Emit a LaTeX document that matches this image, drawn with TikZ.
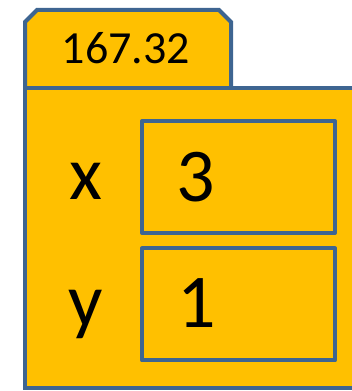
\documentclass[tikz,border=0pt]{standalone}
\usepackage{fontspec}
\setmainfont{Carlito}
\definecolor{gold}{HTML}{FFC000}
\definecolor{edge}{HTML}{3E6591}
\begin{document}
\begin{tikzpicture}[x=1pt,y=1pt,
  frame/.style={draw=edge,fill=gold,line width=4pt,line join=round},
  slot/.style={frame,rectangle,inner sep=0pt,minimum width=193pt,minimum height=112pt},
  big/.style={font=\fontsize{76}{76}\selectfont,inner sep=0pt,anchor=base},
  tabtext/.style={font=\fontsize{46}{46}\selectfont,inner sep=0pt,anchor=base}]
\useasboundingbox (0,0) rectangle (352,391);
\clip (0,0) rectangle (352,391);
\draw[frame,line join=miter] (25,303) -- (25,369) -- (37,381) -- (219,381) -- (231,369) -- (231,303);
\draw[frame,line join=miter] (25,3) rectangle (370,303);
\node[slot] (xbox) at (238.5,214) {};
\node[slot] (ybox) at (238.5,86.5) {};
\node[tabtext] (addr) at (126,327) {167.32};
\node[big] (xname) at (86,191) {x};
\node[big] (xval) at (196,189) {3};
\node[big] (yname) at (86,64) {y};
\node[big] (yval) at (197,63) {1};
\end{tikzpicture}
\end{document}
